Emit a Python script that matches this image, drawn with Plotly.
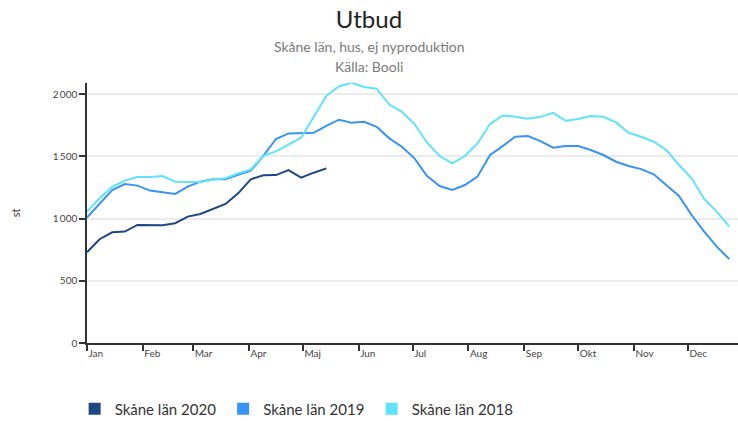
import plotly.graph_objects as go

# ---- data (weekly values, week index -> day of year = 7*k) ----
weeks_2020 = list(range(20))
weeks_full = list(range(52))

skane_2020 = [730, 834, 890, 896, 949, 947, 947, 963, 1016, 1037, 1075, 1118, 1203, 1316,
              1348, 1350, 1390, 1329, 1369, 1404]

skane_2019 = [1008, 1123, 1230, 1278, 1265, 1225, 1211, 1198, 1257, 1297, 1316, 1316, 1352,
              1385, 1505, 1640, 1685, 1685, 1690, 1745, 1795, 1770, 1778, 1738, 1645, 1578,
              1484, 1342, 1262, 1230, 1270, 1337, 1511, 1583, 1658, 1663, 1623, 1570, 1583,
              1583, 1551, 1511, 1457, 1423, 1398, 1356, 1270, 1182, 1029, 896, 775, 674]

skane_2018 = [1056, 1163, 1255, 1305, 1334, 1334, 1342, 1297, 1295, 1295, 1312, 1324, 1362,
              1395, 1505, 1540, 1595, 1650, 1818, 1986, 2062, 2092, 2058, 2044, 1917, 1858,
              1760, 1610, 1503, 1444, 1503, 1604, 1760, 1829, 1818, 1802, 1818, 1850, 1786,
              1800, 1824, 1818, 1773, 1690, 1658, 1618, 1551, 1431, 1324, 1158, 1056, 936]

series_names = ["Skåne län 2020", "Skåne län 2019", "Skåne län 2018"]
series_colors = ["#1d4685", "#3793f5", "#5fe3fb"]

month_start_days = [0, 31, 59, 90, 120, 151, 181, 212, 243, 273, 304, 334]
month_labels = ["Jan", "Feb", "Mar", "Apr", "Maj", "Jun", "Jul", "Aug", "Sep", "Okt", "Nov", "Dec"]

y_tickvals = [0, 500, 1000, 1500, 2000]
y_ticktext = ["0", "500", "1\u2009000", "1\u2009500", "2\u2009000"]

title_text = "Utbud"
subtitle_lines = ["Skåne län, hus, ej nyproduktion", "Källa: Booli"]

DAYS_PER_WEEK = 7

fig = go.Figure()

all_series = [(weeks_2020, skane_2020), (weeks_full, skane_2019), (weeks_full, skane_2018)]
for (wk, vals), name, col in zip(all_series, series_names, series_colors):
    fig.add_trace(go.Scatter(
        x=[w * DAYS_PER_WEEK for w in wk], y=vals, mode="lines", name=name,
        line=dict(color=col, width=2), showlegend=False,
    ))
# legend entries with square swatches
for name, col in zip(series_names, series_colors):
    fig.add_trace(go.Scatter(
        x=[None], y=[None], mode="markers", name=name,
        marker=dict(symbol="square", size=17, color=col), showlegend=True,
    ))

for i, line in enumerate(subtitle_lines):
    fig.add_annotation(
        text=line, xref="paper", yref="paper", x=(738 / 2 - 87) / 651,
        y=1.142 - i * 0.077, xanchor="center", yanchor="middle", showarrow=False,
        font=dict(size=14, color="#7a7a7a"),
    )

fig.update_layout(
    width=738, height=421,
    margin=dict(l=87, r=0, t=83, b=78, autoexpand=False),
    paper_bgcolor="white", plot_bgcolor="white",
    font=dict(family="Lato, sans-serif", color="#333"),
    title=dict(
        text=title_text, x=0.5, xanchor="center", xref="container",
        y=1 - 20 / 421, yanchor="middle", yref="container",
        font=dict(size=24, color="#222", family="Lato, sans-serif"),
    ),
    showlegend=True,
    legend=dict(
        orientation="h", x=-0.019, xanchor="left", y=-0.254, yanchor="middle",
        font=dict(size=15, color="#333"), itemsizing="constant",
        entrywidth=103.5, entrywidthmode="pixels", traceorder="normal",
    ),
    xaxis=dict(
        range=[0, 361.8], tickvals=month_start_days, ticktext=month_labels,
        showgrid=False, zeroline=False, showline=True, linecolor="#333", linewidth=1.5,
        ticks="outside", ticklen=6, tickcolor="#333", tickwidth=1.5, automargin=False,
        ticklabelposition="outside right", tickfont=dict(size=10, color="#444"),
    ),
    yaxis=dict(
        range=[0, 2090], tickvals=y_tickvals, ticktext=y_ticktext, automargin=False,
        showgrid=True, gridcolor="#ebebeb", gridwidth=2, zeroline=False,
        showline=True, linecolor="#333", linewidth=1.5,
        ticks="outside", ticklen=6, tickcolor="#333", tickwidth=1.5,
        tickfont=dict(size=10, color="#444"),
        title=dict(text="st", font=dict(size=11, color="#333"), standoff=30),
    ),
)

fig.write_html("out.html", config={"displayModeBar": False},
               post_script="document.body.style.margin='0';")
